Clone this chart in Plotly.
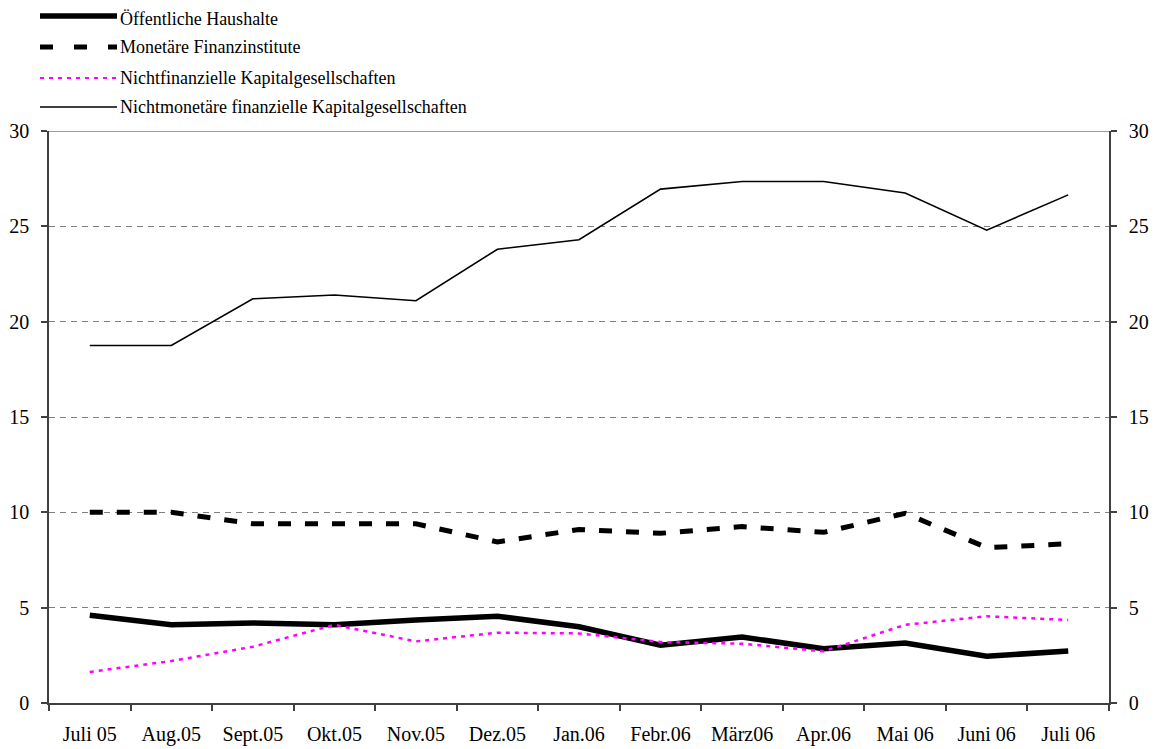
import plotly.graph_objects as go

months = ["Juli 05", "Aug.05", "Sept.05", "Okt.05", "Nov.05", "Dez.05", "Jan.06",
          "Febr.06", "März06", "Apr.06", "Mai 06", "Juni 06", "Juli 06"]

oeffentliche = [4.6, 4.1, 4.2, 4.1, 4.35, 4.55, 4.0, 3.03, 3.46, 2.85, 3.15, 2.45, 2.73]
monetaere = [10.0, 10.0, 9.4, 9.4, 9.4, 8.45, 9.1, 8.9, 9.25, 8.95, 9.95, 8.15, 8.35]
nichtfinanz = [1.63, 2.2, 2.95, 4.1, 3.23, 3.69, 3.65, 3.2, 3.11, 2.71, 4.1, 4.55, 4.35]
nichtmonetaer = [18.75, 18.75, 21.2, 21.4, 21.1, 23.8, 24.3, 26.95, 27.35, 27.35, 26.75, 24.8, 26.65]

names = ["Öffentliche Haushalte", "Monetäre Finanzinstitute",
         "Nichtfinanzielle Kapitalgesellschaften",
         "Nichtmonetäre finanzielle Kapitalgesellschaften"]

# page body has an 8px margin: the figure starts at (8, 8) in the window
OFF = 8
W, H = 1157 - OFF, 749 - OFF
ML, MR, MT, MB = 49 - OFF, 48, 131 - OFF, 46
PW, PH = W - ML - MR, H - MT - MB

FONT = "Liberation Serif, Times New Roman, serif"

styles = [
    dict(color="black", width=5.5, dash="solid"),
    dict(color="black", width=5, dash="13px,14px"),
    dict(color="#ff00ff", width=2.5, dash="4px,5px"),
    dict(color="black", width=1.6, dash="solid"),
]
series = [oeffentliche, monetaere, nichtfinanz, nichtmonetaer]

fig = go.Figure()
order = [3, 1, 0, 2]
for i in order:
    fig.add_trace(go.Scatter(x=months, y=series[i], name=names[i], mode="lines",
                             line=styles[i], showlegend=False))
# invisible trace for right axis
fig.add_trace(go.Scatter(x=months, y=nichtmonetaer, yaxis="y2", mode="lines",
                         line=dict(width=0), opacity=0, showlegend=False, hoverinfo="skip"))

shapes = []
annotations = []
legend_line_px = [16, 47, 78, 107]
legend_text_px = [19, 47, 78, 107]
for i in range(4):
    yl = (H - MB - (legend_line_px[i] - OFF)) / PH
    yt = (H - MB - (legend_text_px[i] - OFF)) / PH
    x0 = (40 - OFF - ML) / PW
    x1 = (117 - OFF - ML) / PW
    st = styles[i]
    shapes.append(dict(type="line", xref="paper", yref="paper", x0=x0, x1=x1, y0=yl, y1=yl,
                       line=dict(color=st["color"], width=st["width"] if i != 2 else 2,
                                 dash=st["dash"] if i != 1 else "13px,21px")))
    annotations.append(dict(xref="paper", yref="paper", x=(118 - OFF - ML) / PW, y=yt,
                            xanchor="left", yanchor="middle", text=names[i], showarrow=False,
                            font=dict(family=FONT, size=18, color="black")))

# top border at 30 (solid gray)
shapes.append(dict(type="line", xref="paper", yref="y", x0=0, x1=1, y0=30, y1=30,
                   line=dict(color="#808080", width=1.5), layer="below"))

axis_common = dict(range=[0, 30], tickvals=[0, 5, 10, 15, 20, 25, 30],
                   ticks="outside", ticklen=6, tickcolor="#404040", tickwidth=1.5,
                   showline=True, linecolor="#404040", linewidth=1.5,
                   tickfont=dict(family=FONT, size=20, color="black"), zeroline=False,
                   ticklabelstandoff=8, automargin=False)

fig.update_layout(
    width=W, height=H,
    margin=dict(l=ML, r=MR, t=MT, b=MB, autoexpand=False),
    paper_bgcolor="white", plot_bgcolor="white",
    font=dict(family=FONT, color="black"),
    xaxis=dict(type="category", range=[-0.5, 12.5], tickson="boundaries",
               ticks="outside", ticklen=6, tickcolor="#404040", tickwidth=1.5,
               showline=True, linecolor="#404040", linewidth=1.5, showgrid=False,
               tickfont=dict(family=FONT, size=20, color="black"), ticklabelstandoff=12,
               automargin=False),
    yaxis=dict(**axis_common, showgrid=True, gridcolor="#808080", gridwidth=1.2,
               griddash="6px,5px", side="left"),
    yaxis2=dict(**axis_common, overlaying="y", side="right", showgrid=False),
    shapes=shapes, annotations=annotations,
)

fig.write_html("out.html")
